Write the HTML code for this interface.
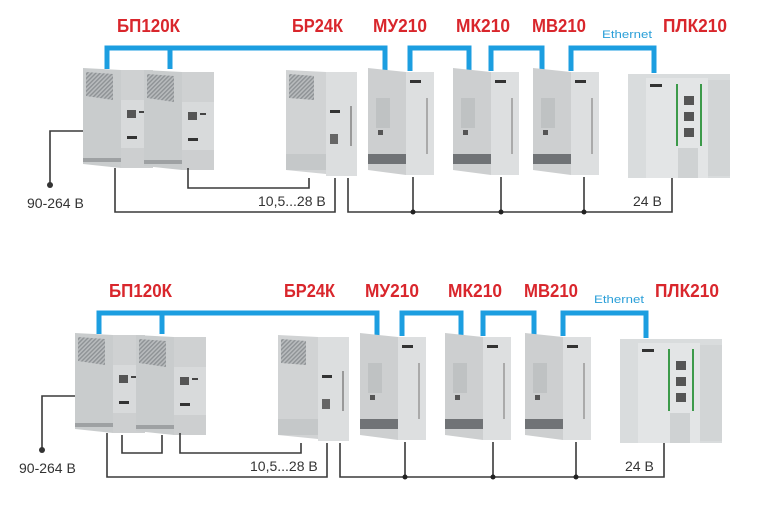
<!DOCTYPE html>
<html><head><meta charset="utf-8"><style>
html,body{margin:0;padding:0;background:#fff;}
svg{display:block;}
.lbl{font-family:"Liberation Sans",sans-serif;font-weight:bold;font-size:18px;fill:#d9262c;}
.eth{font-family:"Liberation Sans",sans-serif;font-size:11px;fill:#2a9fd8;}
.v{font-family:"Liberation Sans",sans-serif;font-size:14px;fill:#333;}
.bl{fill:none;stroke:#1c9ee0;stroke-width:5;}
.w{fill:none;stroke:#3a3a3a;stroke-width:1.6;}
</style></head><body>
<svg width="759" height="513" viewBox="0 0 759 513" xmlns="http://www.w3.org/2000/svg">
<defs>
<pattern id="hatch" width="3" height="3" patternUnits="userSpaceOnUse" patternTransform="rotate(45)">
<rect width="3" height="3" fill="#b8bbbd"/><rect width="1.4" height="3" fill="#8e9295"/></pattern>
<g id="psu">
<polygon points="0,0 38,2 38,100 0,96" fill="#c9cccd"/>
<polygon points="3,4 30,6 30,32 3,28" fill="url(#hatch)"/>
<rect x="38" y="2" width="32" height="98" fill="#d8dadb"/>
<rect x="38" y="2" width="32" height="30" fill="#cfd1d2"/>
<rect x="44" y="42" width="9" height="8" fill="#555"/>
<rect x="56" y="43" width="6" height="2" fill="#444"/>
<rect x="44" y="68" width="10" height="3" fill="#333"/>
<rect x="38" y="80" width="32" height="20" fill="#cdcfd0"/>
<rect x="0" y="90" width="38" height="4" fill="#9ea1a3"/>
</g>
<g id="br">
<polygon points="0,0 40,2 40,104 0,100" fill="#d1d3d4"/>
<polygon points="3,4 28,6 28,30 3,28" fill="url(#hatch)"/>
<rect x="40" y="2" width="31" height="104" fill="#dcdedf"/>
<rect x="44" y="40" width="10" height="3" fill="#333"/>
<rect x="44" y="64" width="8" height="10" fill="#666"/>
<rect x="64" y="36" width="2" height="40" fill="#999"/>
<rect x="0" y="84" width="40" height="16" fill="#c5c8c9"/>
</g>
<g id="mod">
<polygon points="0,0 38,4 38,107 0,102" fill="#cdcfd0"/>
<rect x="38" y="4" width="28" height="103" fill="#dddfe0"/>
<rect x="42" y="12" width="11" height="3" fill="#333"/>
<rect x="58" y="30" width="2" height="56" fill="#aaa"/>
<rect x="8" y="30" width="14" height="30" fill="#bfc2c3"/>
<rect x="10" y="62" width="5" height="5" fill="#555"/>
<rect x="0" y="86" width="38" height="10" fill="#707376"/>
</g>
<g id="plc">
<rect x="0" y="4" width="102" height="104" fill="#d9dcdd"/>
<rect x="18" y="8" width="62" height="100" fill="#e3e5e6"/>
<rect x="80" y="10" width="22" height="96" fill="#d2d5d6"/>
<rect x="22" y="14" width="12" height="3" fill="#333"/>
<rect x="48" y="14" width="2" height="62" fill="#3c9a4a"/>
<rect x="72" y="14" width="2" height="62" fill="#3c9a4a"/>
<rect x="56" y="26" width="10" height="9" fill="#555"/>
<rect x="56" y="42" width="10" height="9" fill="#555"/>
<rect x="56" y="58" width="10" height="9" fill="#555"/>
<rect x="50" y="78" width="20" height="30" fill="#cfd2d3"/>
</g>
<g id="scheme">
<text class="lbl" x="117" y="32" textLength="63" lengthAdjust="spacingAndGlyphs">БП120К</text>
<text class="lbl" x="292" y="32" textLength="51" lengthAdjust="spacingAndGlyphs">БР24К</text>
<text class="lbl" x="373" y="32" textLength="54" lengthAdjust="spacingAndGlyphs">МУ210</text>
<text class="lbl" x="456" y="32" textLength="54" lengthAdjust="spacingAndGlyphs">МК210</text>
<text class="lbl" x="532" y="32" textLength="54" lengthAdjust="spacingAndGlyphs">МВ210</text>
<text class="lbl" x="663" y="32" textLength="64" lengthAdjust="spacingAndGlyphs">ПЛК210</text>
<text class="eth" x="602" y="38" textLength="50" lengthAdjust="spacingAndGlyphs">Ethernet</text>
<path class="bl" d="M107,69 V48 H385 V71 M170,48 V69"/>
<path class="bl" d="M410,71 V48 H469 V71"/>
<path class="bl" d="M491,71 V48 H542 V71"/>
<path class="bl" d="M571,71 V48 H654 V73"/>
<use href="#psu" x="83" y="68"/>
<use href="#psu" x="144" y="70"/>
<use href="#br" x="286" y="70"/>
<use href="#mod" x="368" y="68"/>
<use href="#mod" x="453" y="68"/>
<use href="#mod" x="533" y="68"/>
<use href="#plc" x="628" y="70"/>
<path class="w" d="M83,131 H50 V183"/>
<circle cx="50" cy="185" r="3" fill="#333"/>
<path class="w" d="M115,168 V212 H335 V178"/>
<path class="w" d="M188,168 V188 H309 V178"/>
<path class="w" d="M348,178 V212 H672 V178"/>
<path class="w" d="M413,177 V212 M501,177 V212 M584,177 V212"/>
<circle cx="413" cy="212" r="2.5" fill="#222"/>
<circle cx="501" cy="212" r="2.5" fill="#222"/>
<circle cx="584" cy="212" r="2.5" fill="#222"/>
<text class="v" x="27" y="208">90-264 В</text>
<text class="v" x="258" y="206">10,5...28 В</text>
<text class="v" x="633" y="206">24 В</text>
</g>
</defs>
<use href="#scheme" x="0" y="0"/>
<g transform="translate(-8,265)">
<use href="#scheme" x="0" y="0"/>
<path class="w" d="M130,170 V188 H170 V170"/>
</g>
</svg>
</body></html>
